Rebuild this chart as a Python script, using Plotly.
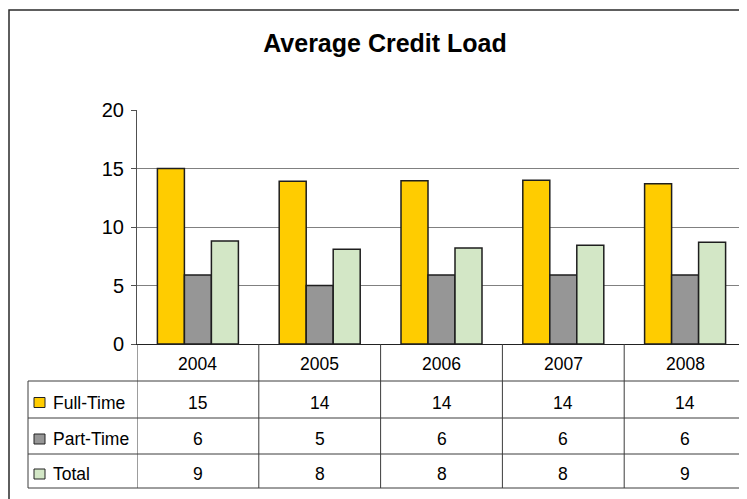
# Average Credit Load - column chart with an Excel-style data table underneath
import plotly.graph_objects as go

# data
years = ['2004', '2005', '2006', '2007', '2008']
full_time = [15.0, 13.9, 13.95, 14.0, 13.7]
part_time = [5.9, 5.0, 5.9, 5.9, 5.9]
total = [8.8, 8.1, 8.2, 8.45, 8.7]
series_names = ['Full-Time', 'Part-Time', 'Total']
series_colors = ['#FFCC00', '#969696', '#D3E7C6']

# page has an 8px body margin, so the figure starts at (8, 8) on screen
OFF = 8
W, H = 747 - OFF, 499 - OFF
# plot area in screen pixels (left, right, top, bottom)
L, R, T, B = 137, 746, 110, 344
FONT = 'Liberation Sans, Arial, sans-serif'
LINE = '#3c3c3c'
TABLE_FONT = 17.5


def px(x):
    # screen x -> paper
    return (x - L) / (R - L)


def py(y):
    # screen y -> paper
    return (B - y) / (B - T)


fig = go.Figure()
for name, vals, color in zip(series_names, [full_time, part_time, total], series_colors):
    fig.add_trace(go.Bar(x=years, y=vals, name=name,
                         marker=dict(color=color, line=dict(color='#1e1e1e', width=1.5)),
                         showlegend=False))

fig.update_layout(width=W, height=H,
                  margin=dict(l=L - OFF, r=W - (R - OFF), t=T - OFF, b=H - (B - OFF)),
                  paper_bgcolor='white', plot_bgcolor='white',
                  barmode='group', bargap=0.335, bargroupgap=0,
                  font=dict(family=FONT, color='black'),
                  title=dict(text='Average Credit Load',
                             font=dict(family=FONT, size=25, color='black', weight='bold'),
                             xref='paper', x=px(385), xanchor='center',
                             yref='container', y=1 - (43 - OFF) / H, yanchor='middle'))
fig.update_yaxes(range=[0, 20], dtick=5, showgrid=True, gridcolor='#808080', gridwidth=1,
                 showline=True, linecolor='#505050', linewidth=1, mirror=True,
                 ticks='outside', ticklen=5, tickcolor='#505050', ticklabelstandoff=3,
                 tickfont=dict(size=20), zeroline=False)
fig.update_xaxes(type='category', showticklabels=False, showline=True, linecolor='#222222',
                 linewidth=1.2, ticks='', range=[-0.5, 4.5])

# table rows (screen y boundaries)
header_bottom = 381
row_edges = [381, 418, 454, 488]
legend_left = 28
shapes = []
# horizontal lines
for y in row_edges:
    shapes.append(dict(type='line', xref='paper', yref='paper',
                       x0=px(legend_left), x1=1, y0=py(y), y1=py(y),
                       line=dict(color=LINE, width=1)))
# column lines on category boundaries
for i in range(len(years) + 1):
    shapes.append(dict(type='line', xref='x', yref='paper',
                       x0=i - 0.5, x1=i - 0.5, y0=0, y1=py(row_edges[-1]),
                       line=dict(color=LINE, width=1)))
# left edge of legend column
shapes.append(dict(type='line', xref='paper', yref='paper',
                   x0=px(legend_left), x1=px(legend_left), y0=py(header_bottom), y1=py(row_edges[-1]),
                   line=dict(color=LINE, width=1)))
# outer chart frame (runs off the right and bottom of the picture)
shapes.append(dict(type='rect', xref='paper', yref='paper',
                   x0=px(9), x1=px(900), y0=py(10), y1=py(700),
                   line=dict(color='#2a2a2a', width=1.5), layer='below'))

annotations = []
# header row: years
for i, yr in enumerate(years):
    annotations.append(dict(x=i, xref='x', y=py((B + header_bottom) / 2 + 1), yref='paper',
                            text=yr, showarrow=False, font=dict(size=TABLE_FONT),
                            xanchor='center', yanchor='middle'))
# value rows with legend keys
for k, (name, vals, color) in enumerate(zip(series_names, [full_time, part_time, total], series_colors)):
    yc = (row_edges[k] + row_edges[k + 1]) / 2 + 3
    shapes.append(dict(type='rect', xref='paper', yref='paper',
                       x0=px(34), x1=px(45), y0=py(yc - 5), y1=py(yc + 5),
                       fillcolor=color, line=dict(color='#222222', width=1)))
    annotations.append(dict(x=px(51), xref='paper', y=py(yc), yref='paper',
                            text=name, showarrow=False, font=dict(size=TABLE_FONT),
                            xanchor='left', yanchor='middle'))
    for i, v in enumerate(vals):
        annotations.append(dict(x=i, xref='x', y=py(yc), yref='paper',
                                text='{:.0f}'.format(v), showarrow=False, font=dict(size=TABLE_FONT),
                                xanchor='center', yanchor='middle'))

fig.update_layout(shapes=shapes, annotations=annotations)
fig.write_html('out.html')
